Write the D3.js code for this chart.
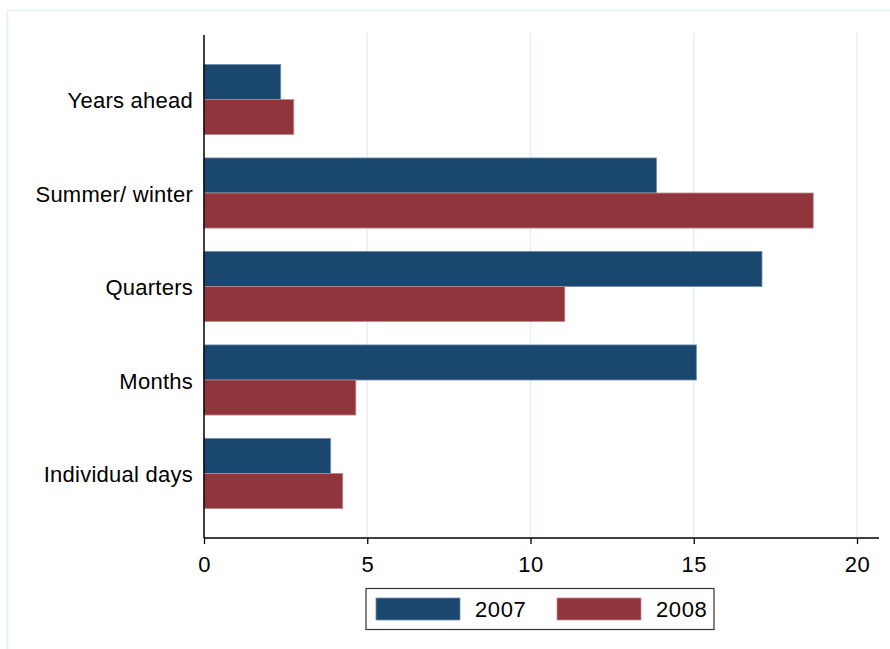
<!DOCTYPE html>
<html><head><meta charset="utf-8">
<script src="https://cdn.jsdelivr.net/npm/d3@7"></script>
<style>body{margin:0;background:#fff;}svg{display:block;font-family:"Liberation Sans",Arial,Helvetica,sans-serif;}</style>
</head><body>
<svg id="c" width="890" height="649"></svg>
<script>
const categories = ["Years ahead","Summer/ winter","Quarters","Months","Individual days"];
const series = ["2007","2008"];
const values2007 = [2.35, 13.86, 17.09, 15.08, 3.88];
const values2008 = [2.75, 18.66, 11.05, 4.65, 4.25];
const xTicks = [0,5,10,15,20];
const colors = ["#1a476f","#90353b"];
const strokes = ["#6f8eab","#c08a8e"];

const svg = d3.select("#c");
// outer frame
svg.append("path").attr("d","M7.5,649 L7.5,10.5 L890,10.5").attr("fill","none").attr("stroke","#e6eff0").attr("stroke-width",1.5);

const x = d3.scaleLinear().domain([0,20]).range([204,857]);
const y = d3.scaleBand().domain(categories).range([35,538]).paddingInner(0.25).paddingOuter(0.315);
const ys = d3.scaleBand().domain(series).range([0,y.bandwidth()]);

// gridlines
svg.append("g").selectAll("line").data(xTicks.filter(d=>d>0)).join("line")
  .attr("x1",d=>x(d)).attr("x2",d=>x(d)).attr("y1",33).attr("y2",537)
  .attr("stroke","#e8eff3").attr("stroke-width",1.6);

const data = categories.map((c,i)=>({cat:c, vals:[values2007[i], values2008[i]]}));
const g = svg.append("g");
data.forEach(d=>{
  d.vals.forEach((v,j)=>{
    g.append("rect").attr("x",x(0)).attr("y",y(d.cat)+ys(series[j]))
      .attr("width",x(v)-x(0)).attr("height",ys.bandwidth())
      .attr("fill",colors[j]).attr("stroke",strokes[j]).attr("stroke-width",0.8);
  });
});

// y axis
svg.append("line").attr("x1",204).attr("x2",204).attr("y1",35).attr("y2",538).attr("stroke","#000").attr("stroke-width",1.5);
svg.append("g").selectAll("text").data(categories).join("text")
  .attr("x",193).attr("y",d=>y(d)+y.bandwidth()/2+1).attr("dy","0.36em")
  .attr("text-anchor","end").attr("font-size",22).attr("letter-spacing","0.25px").attr("fill","#000").text(d=>d);

// x axis
const xa = svg.append("g").attr("transform","translate(0,538)")
  .call(d3.axisBottom(x).tickValues(xTicks).tickSize(6).tickPadding(12).tickFormat(d3.format("d")));
xa.select(".domain").remove();
xa.append("line").attr("x1",204).attr("x2",879).attr("stroke","#000").attr("stroke-width",1.5);
xa.selectAll(".tick line").attr("stroke","#000").attr("stroke-width",1.3);
xa.selectAll(".tick text").attr("font-size",22).attr("letter-spacing","0.5px").attr("fill","#000").attr("font-family","Liberation Sans, Arial, sans-serif");

// legend
const lg = svg.append("g");
lg.append("rect").attr("x",366).attr("y",588.5).attr("width",348).attr("height",41).attr("fill","#fff").attr("stroke","#333").attr("stroke-width",1.2);
const lx = [376,557];
series.forEach((s,j)=>{
  lg.append("rect").attr("x",lx[j]).attr("y",598).attr("width",84).attr("height",22)
    .attr("fill",colors[j]).attr("stroke",strokes[j]).attr("stroke-width",0.8);
  lg.append("text").attr("x",lx[j]+99).attr("y",609).attr("dy","0.36em").attr("font-size",22).attr("letter-spacing","0.6px").attr("fill","#000").text(s);
});
</script>
</body></html>
